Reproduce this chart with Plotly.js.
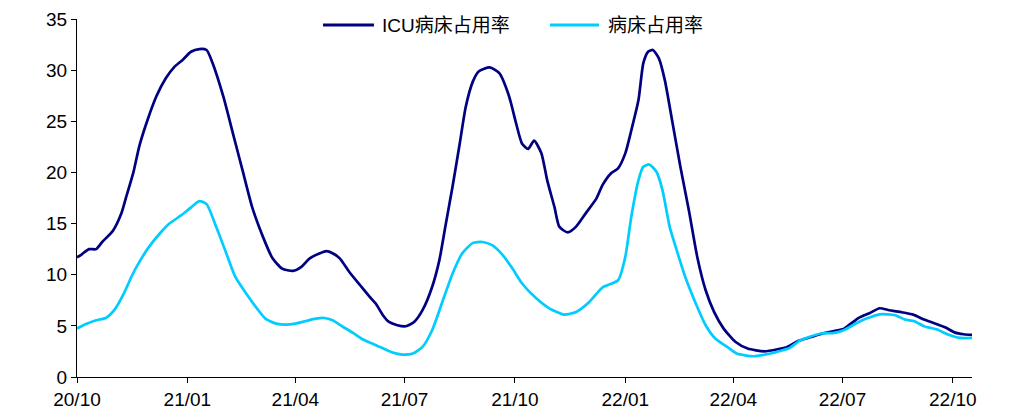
<!DOCTYPE html>
<html>
<head>
<meta charset="utf-8">
<script src="https://cdn.plot.ly/plotly-3.0.1.min.js"></script>
<style>
html,body{margin:0;padding:0;background:#fff;}
#chart{width:1027px;height:416px;}
</style>
</head>
<body>
<div id="chart"></div>
<script>
// ICU病床占用率 (%)
const icuDates = ['2020-10-01','2020-10-05','2020-10-11','2020-10-17','2020-10-22','2020-10-31','2020-11-07','2020-11-11','2020-11-17','2020-11-22','2020-11-29','2020-12-06','2020-12-14','2020-12-21','2020-12-28','2021-01-04','2021-01-11','2021-01-17','2021-01-22','2021-01-31','2021-02-08','2021-02-16','2021-02-24','2021-03-05','2021-03-13','2021-03-21','2021-03-30','2021-04-06','2021-04-13','2021-04-21','2021-04-27','2021-05-02','2021-05-08','2021-05-16','2021-05-25','2021-06-02','2021-06-07','2021-06-13','2021-06-18','2021-06-25','2021-07-02','2021-07-09','2021-07-16','2021-07-24','2021-07-30','2021-08-04','2021-08-10','2021-08-16','2021-08-21','2021-08-27','2021-09-01','2021-09-10','2021-09-18','2021-09-26','2021-10-02','2021-10-07','2021-10-12','2021-10-17','2021-10-23','2021-10-28','2021-11-03','2021-11-07','2021-11-14','2021-11-21','2021-11-29','2021-12-08','2021-12-13','2021-12-20','2021-12-26','2022-01-01','2022-01-06','2022-01-12','2022-01-16','2022-01-20','2022-01-24','2022-01-29','2022-02-03','2022-02-09','2022-02-16','2022-02-23','2022-03-02','2022-03-09','2022-03-16','2022-03-24','2022-04-03','2022-04-13','2022-04-27','2022-05-08','2022-05-16','2022-05-25','2022-06-05','2022-06-16','2022-06-24','2022-07-02','2022-07-08','2022-07-15','2022-07-24','2022-08-01','2022-08-09','2022-08-18','2022-08-29','2022-09-07','2022-09-15','2022-09-25','2022-10-03','2022-10-10','2022-10-17'];
const icuRate = [11.7,12.0,12.5,12.5,13.2,14.3,16.0,17.6,20.0,22.6,25.2,27.4,29.2,30.3,31.0,31.8,32.06,31.97,30.7,27.4,23.8,20.2,16.6,13.7,11.6,10.6,10.37,10.76,11.6,12.07,12.3,12.1,11.6,10.27,8.97,7.83,7.18,6.04,5.38,5.06,4.96,5.38,6.53,8.8,11.4,14.7,18.6,22.8,26.4,28.9,29.9,30.27,29.7,27.5,24.8,22.8,22.3,23.1,21.9,19.2,16.6,14.7,14.13,14.7,16.0,17.46,18.76,19.9,20.4,21.86,24.1,27.07,30.66,31.8,31.97,31.15,29.0,25.1,20.5,16.3,11.74,8.48,6.36,4.73,3.42,2.78,2.51,2.71,2.94,3.52,3.91,4.3,4.5,4.7,5.22,5.81,6.26,6.72,6.53,6.36,6.1,5.62,5.28,4.83,4.34,4.18,4.11];

// 病床占用率 (%)
const bedDates = ['2020-10-01','2020-10-08','2020-10-17','2020-10-25','2020-11-01','2020-11-09','2020-11-16','2020-11-22','2020-11-30','2020-12-09','2020-12-17','2020-12-27','2021-01-03','2021-01-11','2021-01-17','2021-01-25','2021-02-02','2021-02-10','2021-02-19','2021-02-27','2021-03-07','2021-03-16','2021-03-24','2021-04-01','2021-04-10','2021-04-18','2021-04-25','2021-05-02','2021-05-10','2021-05-19','2021-05-27','2021-06-04','2021-06-13','2021-06-21','2021-06-29','2021-07-08','2021-07-16','2021-07-24','2021-08-02','2021-08-10','2021-08-18','2021-08-27','2021-09-04','2021-09-12','2021-09-21','2021-09-29','2021-10-07','2021-10-19','2021-10-30','2021-11-11','2021-11-21','2021-12-02','2021-12-13','2021-12-26','2022-01-01','2022-01-06','2022-01-12','2022-01-16','2022-01-21','2022-01-27','2022-02-01','2022-02-07','2022-02-12','2022-02-20','2022-03-02','2022-03-09','2022-03-17','2022-03-27','2022-04-04','2022-04-18','2022-04-29','2022-05-10','2022-05-18','2022-05-27','2022-06-13','2022-06-24','2022-07-02','2022-07-13','2022-07-21','2022-08-01','2022-08-14','2022-08-22','2022-08-30','2022-09-07','2022-09-18','2022-09-27','2022-10-07','2022-10-17'];
const bedRate = [4.73,5.16,5.55,5.77,6.53,8.16,9.95,11.25,12.72,14.03,15.0,15.82,16.48,17.19,16.9,14.68,12.23,9.78,8.16,6.85,5.71,5.22,5.13,5.22,5.48,5.71,5.77,5.55,4.96,4.31,3.69,3.27,2.81,2.39,2.19,2.29,2.94,4.57,7.5,10.1,12.07,13.11,13.2,12.89,11.9,10.6,9.14,7.67,6.69,6.1,6.36,7.34,8.75,9.46,11.74,15.66,19.25,20.55,20.78,20.06,18.27,14.68,12.72,9.78,6.85,5.06,3.76,2.94,2.29,2.03,2.22,2.54,2.84,3.59,4.25,4.31,4.57,5.28,5.71,6.13,6.04,5.62,5.45,4.96,4.64,4.15,3.82,3.82];

const tickDates = ['2020-10-01','2021-01-01','2021-04-01','2021-07-01','2021-10-01','2022-01-01','2022-04-01','2022-07-01','2022-10-01'];
const tickLabels = ['20/10','21/01','21/04','21/07','21/10','22/01','22/04','22/07','22/10'];
const seriesNames = ['ICU病床占用率','病床占用率'];
const seriesColors = ['#000080','#00CCFF'];

const fontFam = 'Liberation Sans, Arial, "Noto Sans CJK SC", sans-serif';
const legendFont = '"Liberation Sans", "Noto Sans CJK SC", sans-serif';

const traces = [
  {x: icuDates, y: icuRate, name: seriesNames[0], type: 'scatter', mode: 'lines',
   line: {color: seriesColors[0], width: 2.7, shape: 'spline', smoothing: 0.6}},
  {x: bedDates, y: bedRate, name: seriesNames[1], type: 'scatter', mode: 'lines',
   line: {color: seriesColors[1], width: 2.7, shape: 'spline', smoothing: 0.6}}
];

// manual legend placed in paper coordinates (inside the top of the plot area)
const legY = 0.983;
const legItems = [
  {x0: 0.2749, x1: 0.3318, tx: 0.3385},
  {x0: 0.5285, x1: 0.5832, tx: 0.5911}
];
const shapes = legItems.map((it, i) => ({
  type: 'line', xref: 'paper', yref: 'paper', x0: it.x0, x1: it.x1, y0: legY, y1: legY,
  line: {color: seriesColors[i], width: 3}
}));
const annotations = legItems.map((it, i) => ({
  xref: 'paper', yref: 'paper', x: it.tx, y: legY, xanchor: 'left', yanchor: 'middle',
  text: seriesNames[i], showarrow: false,
  font: {family: legendFont, size: 19, color: '#000'}
}));

const layout = {
  width: 1027, height: 416,
  margin: {l: 77, r: 55, t: 19, b: 39},
  paper_bgcolor: '#fff', plot_bgcolor: '#fff',
  font: {family: fontFam, size: 19, color: '#000'},
  showlegend: false,
  shapes: shapes,
  annotations: annotations,
  xaxis: {type: 'date', range: ['2020-10-01', '2022-10-17'],
    tickvals: tickDates, ticktext: tickLabels,
    showgrid: false, zeroline: false, showline: true, linecolor: '#000', linewidth: 1,
    ticks: 'outside', ticklen: 5, tickcolor: '#000', tickwidth: 1,
    tickfont: {family: fontFam, size: 19, color: '#000'}},
  yaxis: {range: [0, 35], tickvals: [0,5,10,15,20,25,30,35],
    showgrid: false, zeroline: false, showline: true, linecolor: '#000', linewidth: 1,
    ticks: 'outside', ticklen: 5, tickcolor: '#000', tickwidth: 1,
    tickfont: {family: fontFam, size: 19, color: '#000'}}
};

Plotly.newPlot('chart', traces, layout, {displayModeBar: false, staticPlot: true});
</script>
</body>
</html>
